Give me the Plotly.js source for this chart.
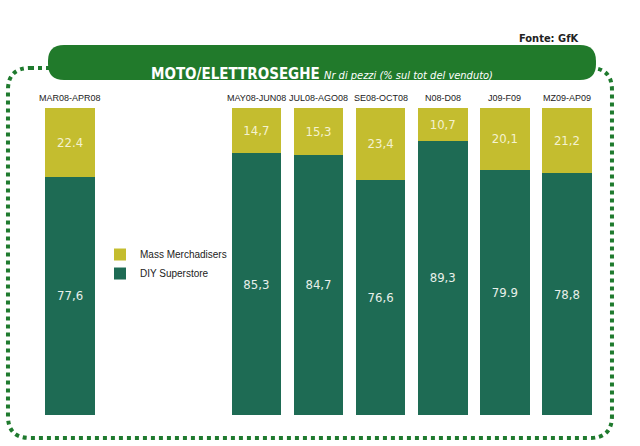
<!DOCTYPE html>
<html>
<head>
<meta charset="utf-8">
<script src="https://cdn.plot.ly/plotly-3.0.1.min.js"></script>
<style>body{margin:0;background:#fff}#chart{width:640px;height:446px}</style>
</head>
<body>
<div id="chart"></div>
<script>
// periods; two blank slots leave room for the legend
var periods = ['MAR08-APR08', ' ', '  ', 'MAY08-JUN08', 'JUL08-AGO08', 'SE08-OCT08', 'N08-D08', 'J09-F09', 'MZ09-AP09'];
var diyValues = [77.6, null, null, 85.3, 84.7, 76.6, 89.3, 79.9, 78.8];
var massValues = [22.4, null, null, 14.7, 15.3, 23.4, 10.7, 20.1, 21.2];
var diyLabels = ['77,6', '', '', '85,3', '84,7', '76,6', '89,3', '79.9', '78,8'];
var massLabels = ['22.4', '', '', '14,7', '15,3', '23,4', '10,7', '20,1', '21,2'];

var W = 640, H = 446, ml = 39, mr = 42, mt = 108, mb = 31;
function px(x) { return ((x - ml) / (W - ml - mr)).toFixed(4); }
function py(y) { return ((H - mb - y) / (H - mt - mb)).toFixed(4); }
function roundRect(x0, y0, x1, y1, r) {
    return 'M' + px(x0 + r) + ',' + py(y0) + ' L' + px(x1 - r) + ',' + py(y0) +
        ' Q' + px(x1) + ',' + py(y0) + ' ' + px(x1) + ',' + py(y0 + r) +
        ' L' + px(x1) + ',' + py(y1 - r) + ' Q' + px(x1) + ',' + py(y1) + ' ' + px(x1 - r) + ',' + py(y1) +
        ' L' + px(x0 + r) + ',' + py(y1) + ' Q' + px(x0) + ',' + py(y1) + ' ' + px(x0) + ',' + py(y1 - r) +
        ' L' + px(x0) + ',' + py(y0 + r) + ' Q' + px(x0) + ',' + py(y0) + ' ' + px(x0 + r) + ',' + py(y0) + ' Z';
}

var diyTrace = {
    type: 'bar', name: 'DIY Superstore', x: periods, y: diyValues,
    text: diyLabels, texttemplate: '%{text}', textposition: 'inside', insidetextanchor: 'middle',
    textfont: { color: '#e8f0ea', size: 13, family: 'DejaVu Sans Condensed, DejaVu Sans' },
    marker: { color: '#1e6b54' }, hoverinfo: 'none'
};
var massTrace = {
    type: 'bar', name: 'Mass Merchadisers', x: periods, y: massValues,
    text: massLabels, texttemplate: '%{text}', textposition: 'inside', insidetextanchor: 'middle',
    textfont: { color: '#f4f2d0', size: 13, family: 'DejaVu Sans Condensed, DejaVu Sans' },
    marker: { color: '#c4bd2f' }, hoverinfo: 'none'
};

var annotations = periods.filter(function (p) { return p.trim() !== ''; }).map(function (p) {
    return { x: p, y: 100, xref: 'x', yref: 'y', yanchor: 'bottom', yshift: 3, text: p, showarrow: false,
        font: { size: 9, color: '#222', family: 'Liberation Sans, Arial' } };
});
annotations.push({ xref: 'paper', yref: 'paper', x: px(580), y: py(30), xanchor: 'right', text: '<b>Fonte: GfK</b>',
    showarrow: false, font: { size: 11, color: '#222', family: 'DejaVu Sans Condensed, DejaVu Sans' } });
annotations.push({ xref: 'paper', yref: 'paper', x: px(322), y: py(63), text:
    '<b>MOTO/ELETTROSEGHE</b> <i><span style="font-size:11px">Nr di pezzi (% sul tot del venduto)</span></i>',
    showarrow: false, font: { size: 15, color: '#fff', family: 'DejaVu Sans Condensed, DejaVu Sans' } });

var layout = {
    width: W, height: H, barmode: 'stack', bargap: 0.2,
    margin: { l: ml, r: mr, t: mt, b: mb },
    paper_bgcolor: '#fff', plot_bgcolor: '#fff', showlegend: true,
    legend: { x: px(100), y: py(240), xanchor: 'left', yanchor: 'top', traceorder: 'reversed',
        font: { size: 10, color: '#222', family: 'Liberation Sans, Arial' }, itemwidth: 30, tracegroupgap: 0 },
    xaxis: { visible: false, range: [-0.5, 8.5] },
    yaxis: { visible: false, range: [0, 100] },
    annotations: annotations,
    shapes: [
        { type: 'path', xref: 'paper', yref: 'paper', path: roundRect(8, 68, 612, 438, 22),
          line: { color: '#1f7a2e', width: 4, dash: 'dot' }, layer: 'below' },
        { type: 'path', xref: 'paper', yref: 'paper', path: roundRect(48, 45, 596, 80, 16),
          fillcolor: '#217a2b', line: { width: 0 }, layer: 'above' }
    ]
};
Plotly.newPlot('chart', [diyTrace, massTrace], layout, { displayModeBar: false, staticPlot: true });
</script>
</body>
</html>
